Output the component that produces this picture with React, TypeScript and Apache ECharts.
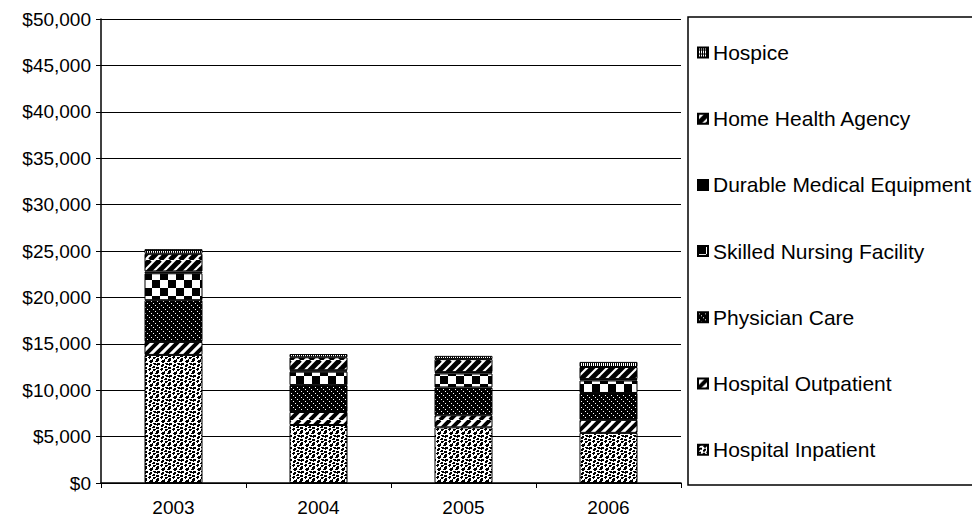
import React, { useEffect, useRef } from "react";
import * as echarts from "echarts";

const years = ["2003", "2004", "2005", "2006"];
const seriesNames = [
  "Hospital Inpatient",
  "Hospital Outpatient",
  "Physician Care",
  "Skilled Nursing Facility",
  "Durable Medical Equipment",
  "Home Health Agency",
  "Hospice",
];
const inpatient = [13800, 6250, 6000, 5400];
const outpatient = [1400, 1400, 1300, 1400];
const physician = [4500, 2900, 3000, 2900];
const snf = [2900, 1450, 1500, 1350];
const dme = [200, 150, 150, 150];
const homeHealth = [1900, 1400, 1400, 1300];
const hospice = [500, 350, 350, 550];
const seriesValues = [inpatient, outpatient, physician, snf, dme, homeHealth, hospice];

const FONT = "'Liberation Sans', Arial, sans-serif";

function bitmap(rows: string[]) {
  const h = rows.length;
  const w = rows[0].length;
  const c = document.createElement("canvas");
  c.width = w;
  c.height = h;
  const ctx = c.getContext("2d")!;
  ctx.fillStyle = "#fff";
  ctx.fillRect(0, 0, w, h);
  ctx.fillStyle = "#000";
  for (let y = 0; y < h; y++)
    for (let x = 0; x < w; x++) if (rows[y][x] === "#") ctx.fillRect(x, y, 1, 1);
  return { image: c.toDataURL(), repeat: "repeat", imageWidth: w, imageHeight: h } as any;
}

function stripes(period: number, width: number, bg: string, fg: string) {
  const T = period * 2;
  const c = document.createElement("canvas");
  c.width = T;
  c.height = T;
  const ctx = c.getContext("2d")!;
  ctx.fillStyle = bg;
  ctx.fillRect(0, 0, T, T);
  ctx.strokeStyle = fg;
  ctx.lineWidth = width;
  for (let k = -2 * T; k <= 2 * T; k += period) {
    ctx.beginPath();
    ctx.moveTo(k, T);
    ctx.lineTo(k + T, 0);
    ctx.stroke();
  }
  return { image: c.toDataURL(), repeat: "repeat", imageWidth: T, imageHeight: T } as any;
}

function makePatterns() {
  const inp = bitmap([
    "###...###...",
    "##...####..#",
    "......##....",
    ".###.....###",
    "####..##..##",
    ".#...###....",
    ".....##..##.",
    "###.....###.",
    "###..##.....",
    "....###..###",
    ".##..#...##.",
    "###.....#...",
  ]);
  const outp = stripes(10, 4, "#fff", "#000");
  const phys = bitmap([
    "######",
    "#.####",
    "######",
    "###.##",
    "######",
    "#####.",
  ]);
  const check = bitmap([
    "########........",
    "########........",
    "########........",
    "########........",
    "########........",
    "########........",
    "########........",
    "########........",
    "........########",
    "........########",
    "........########",
    "........########",
    "........########",
    "........########",
    "........########",
    "........########",
  ]);
  const dmeP = "#000";
  const hh = stripes(10, 5, "#fff", "#000");
  const hosp = bitmap([
    "#.#.",
    "#.#.",
    "####",
    "#.#.",
  ]);
  return [inp, outp, phys, check, dmeP, hh, hosp];
}

export default function App() {
  const ref = useRef<HTMLDivElement>(null);
  useEffect(() => {
    if (!ref.current) return;
    const chart = echarts.init(ref.current, undefined, { renderer: "svg" });
    const patterns = makePatterns();
    chart.setOption({
      animation: false,
      backgroundColor: "#fff",
      grid: { left: 101, right: 291, top: 19, bottom: 36, containLabel: false },
      xAxis: {
        type: "category",
        data: years,
        axisLine: { lineStyle: { color: "#000", width: 1.5 } },
        axisTick: { show: true, length: 5, interval: 0, lineStyle: { color: "#000" } },
        axisLabel: { color: "#000", fontSize: 19, fontFamily: FONT, margin: 15 },
      },
      yAxis: {
        type: "value",
        min: 0,
        max: 50000,
        interval: 5000,
        axisLine: { show: true, lineStyle: { color: "#000", width: 1.5 } },
        axisTick: { show: true, length: 5, lineStyle: { color: "#000" } },
        splitLine: { show: true, lineStyle: { color: "#000", width: 1 } },
        axisLabel: {
          color: "#000",
          fontSize: 19,
          fontFamily: FONT,
          margin: 10,
          formatter: (v: number) => "$" + v.toLocaleString("en-US"),
        },
      },
      legend: {
        orient: "vertical",
        left: 697,
        top: 42,
        padding: 0,
        itemWidth: 10,
        itemHeight: 10,
        itemGap: 45.2,
        icon: "rect",
        data: [...seriesNames].reverse(),
        textStyle: { color: "#000", fontSize: 21, fontFamily: FONT, lineHeight: 20 },
      },
      graphic: [
        {
          type: "rect",
          shape: { x: 688, y: 17, width: 300, height: 468 },
          style: { fill: "none", stroke: "#000", lineWidth: 1.5 },
          silent: true,
          z: -1,
        },
      ],
      series: seriesNames.map((name, i) => ({
        name,
        type: "bar",
        stack: "total",
        barWidth: 58,
        data: seriesValues[i],
        itemStyle: { color: patterns[i], borderColor: "#000", borderWidth: 1 },
      })),
    });
    return () => chart.dispose();
  }, []);
  return (
    <div
      ref={ref}
      style={{ position: "fixed", left: 0, top: 0, width: 972, height: 519 }}
    />
  );
}
